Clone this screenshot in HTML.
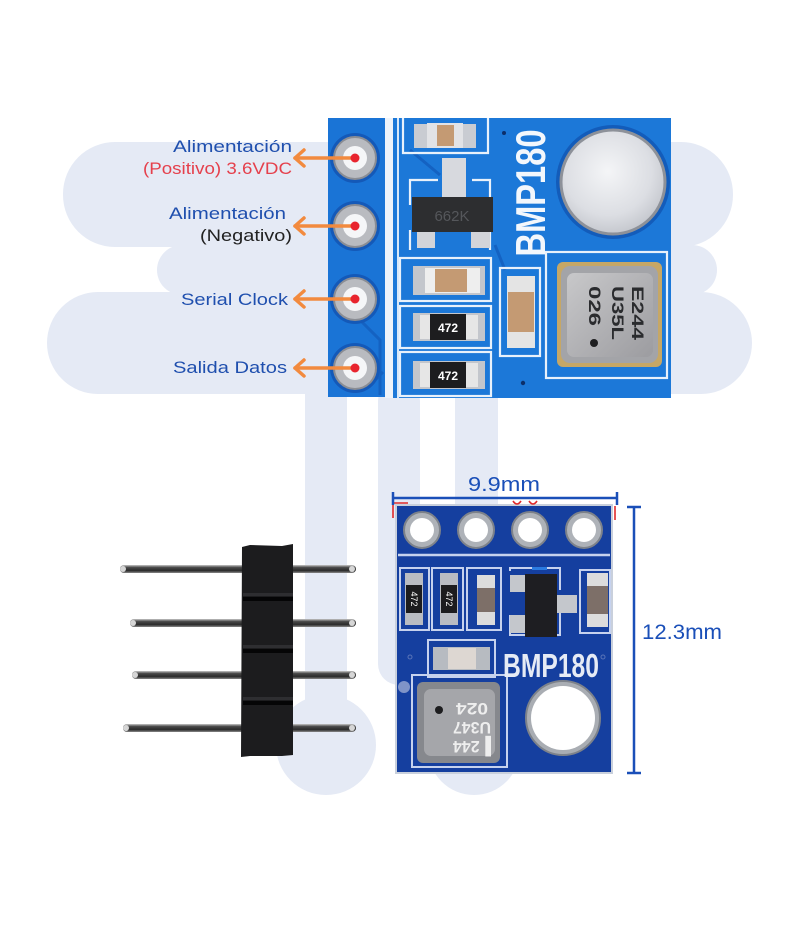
<!DOCTYPE html>
<html><head><meta charset="utf-8"><style>
html,body{margin:0;padding:0;background:#fff;}
svg{display:block;}
</style></head><body>
<svg width="800" height="933" viewBox="0 0 800 933" xmlns="http://www.w3.org/2000/svg" font-family="'Liberation Sans', sans-serif">
<defs>
  <radialGradient id="silver" cx="0.45" cy="0.4" r="0.7">
    <stop offset="0" stop-color="#f4f5f7"/>
    <stop offset="0.6" stop-color="#dcdee3"/>
    <stop offset="1" stop-color="#b9bcc3"/>
  </radialGradient>
  <linearGradient id="pin" x1="0" y1="0" x2="0" y2="1">
    <stop offset="0" stop-color="#c9c9c9"/>
    <stop offset="0.3" stop-color="#4a4a4a"/>
    <stop offset="0.7" stop-color="#2a2a2a"/>
    <stop offset="1" stop-color="#8a8a8a"/>
  </linearGradient>
  <linearGradient id="chipTop" x1="0" y1="0" x2="1" y2="1">
    <stop offset="0" stop-color="#c8c8ca"/>
    <stop offset="1" stop-color="#9c9ca0"/>
  </linearGradient>
</defs>

<!-- watermark -->
<g fill="#e5eaf5">
  <rect x="63" y="142" width="670" height="105" rx="52"/>
  <rect x="157" y="245" width="560" height="50" rx="25"/>
  <rect x="47" y="292" width="705" height="102" rx="51"/>
  <rect x="305" y="380" width="42" height="370"/>
  <circle cx="326" cy="745" r="50"/>
  <rect x="378" y="380" width="42" height="305" rx="21"/>
  <rect x="455" y="380" width="43" height="370"/>
  <circle cx="474" cy="749" r="46"/>
</g>

<!-- ============ UPPER BOARD ============ -->
<rect x="328" y="118" width="57" height="279" fill="#1a74d6"/>
<rect x="385" y="118" width="8" height="280" fill="#eef3fa"/>
<rect x="393" y="118" width="278" height="280" fill="#1c78d8"/>
<line x1="398" y1="118" x2="398" y2="398" stroke="#d9e8f8" stroke-width="2"/>
<!-- traces -->
<g stroke="#1462c2" stroke-width="3" fill="none">
  <path d="M360 320 L380 340 L380 395"/>
  <path d="M370 385 L383 372"/>
  <path d="M410 150 L440 175"/>
  <path d="M495 245 L505 270"/>
</g>
<!-- pin pads -->
<g>
  <circle cx="355" cy="158" r="25" fill="#1459b8"/>
  <circle cx="355" cy="226" r="25" fill="#1459b8"/>
  <circle cx="355" cy="299" r="25" fill="#1459b8"/>
  <circle cx="355" cy="368" r="25" fill="#1459b8"/>
  <g fill="#b9bbc0" stroke="#8a8d94" stroke-width="2">
    <circle cx="355" cy="158" r="21"/>
    <circle cx="355" cy="226" r="21"/>
    <circle cx="355" cy="299" r="21"/>
    <circle cx="355" cy="368" r="21"/>
  </g>
  <g fill="#f5f6f8">
    <circle cx="355" cy="158" r="12"/>
    <circle cx="355" cy="226" r="12"/>
    <circle cx="355" cy="299" r="12"/>
    <circle cx="355" cy="368" r="12"/>
  </g>
</g>

<!-- silkscreen outlines -->
<g stroke="#e8f1fb" stroke-width="2.2" fill="none">
  <path d="M403 118 L403 153 L488 153 L488 118"/>
  <path d="M410 205 L410 180 L438 180 M472 180 L490 180 L490 205 M410 230 L410 250 M490 230 L490 250"/>
  <rect x="400" y="258" width="91" height="43"/>
  <rect x="400" y="306" width="91" height="42"/>
  <rect x="400" y="352" width="91" height="44"/>
  <rect x="500" y="268" width="40" height="88"/>
  <rect x="546" y="252" width="121" height="126"/>
</g>

<!-- top capacitor -->
<rect x="414" y="124" width="62" height="24" fill="#c9ccd2"/>
<rect x="427" y="123" width="36" height="25" fill="#e2e3e6"/>
<rect x="437" y="125" width="17" height="21" fill="#c49a73"/>

<!-- transistor 662K -->
<rect x="442" y="158" width="24" height="42" fill="#d7d9de"/>
<rect x="417" y="228" width="18" height="20" fill="#d2d4d9"/>
<rect x="471" y="228" width="19" height="20" fill="#d2d4d9"/>
<rect x="412" y="197" width="81" height="35" fill="#2d2e30"/>
<text x="452" y="221" font-size="15" fill="#55575b" text-anchor="middle">662K</text>

<!-- cap 2 -->
<rect x="413" y="266" width="72" height="29" fill="#c3c6cc"/>
<rect x="425" y="268" width="55" height="25" fill="#eeeeee"/>
<rect x="435" y="269" width="32" height="23" fill="#c49a73"/>

<!-- resistors 472 -->
<rect x="413" y="313" width="72" height="28" fill="#c3c6cc"/>
<rect x="420" y="315" width="58" height="24" fill="#e6e6e6"/>
<rect x="430" y="314" width="36" height="26" fill="#1d1d1f"/>
<text x="448" y="332" font-size="12" font-weight="bold" fill="#fff" text-anchor="middle">472</text>
<rect x="413" y="361" width="72" height="28" fill="#c3c6cc"/>
<rect x="420" y="363" width="58" height="24" fill="#e6e6e6"/>
<rect x="430" y="362" width="36" height="26" fill="#1d1d1f"/>
<text x="448" y="380" font-size="12" font-weight="bold" fill="#fff" text-anchor="middle">472</text>

<!-- vertical cap -->
<rect x="507" y="276" width="28" height="72" fill="#e4e4e4"/>
<rect x="508" y="292" width="26" height="40" fill="#c49a73"/>

<!-- BMP180 rotated -->
<text transform="translate(545,193) rotate(-90)" x="0" y="0" font-size="42" font-weight="bold" fill="#f3f7fc" text-anchor="middle" textLength="127" lengthAdjust="spacingAndGlyphs">BMP180</text>

<!-- big silver circle -->
<circle cx="613" cy="182" r="57" fill="#135cba"/>
<circle cx="613" cy="182" r="52" fill="url(#silver)" stroke="#8d9199" stroke-width="3"/>

<!-- sensor chip -->
<rect x="557" y="262" width="105" height="105" rx="6" fill="#c6a766"/>
<rect x="561" y="266" width="97" height="97" rx="9" fill="#a3a4a8"/>
<rect x="567" y="273" width="86" height="84" rx="7" fill="url(#chipTop)"/>
<g font-size="17" font-weight="bold" fill="#2a2b2e" text-anchor="middle">
  <text transform="translate(632,313) rotate(90)" textLength="54" lengthAdjust="spacingAndGlyphs">E244</text>
  <text transform="translate(612,313) rotate(90)" textLength="54" lengthAdjust="spacingAndGlyphs">U35L</text>
  <text transform="translate(589,306) rotate(90)" textLength="40" lengthAdjust="spacingAndGlyphs">026</text>
</g>
<circle cx="594" cy="343" r="4" fill="#1d1d1f"/>
<circle cx="523" cy="383" r="2.2" fill="#0c2f6a"/>
<circle cx="504" cy="133" r="2" fill="#0c2f6a"/>

<!-- arrows + red dots -->
<g stroke="#f28a3e" stroke-width="3.5" stroke-linecap="round" stroke-linejoin="round" fill="none">
  <line x1="295" y1="158" x2="352" y2="158"/>
  <polyline points="304,150 295,158 304,166"/>
  <line x1="295" y1="226" x2="352" y2="226"/>
  <polyline points="304,218 295,226 304,234"/>
  <line x1="295" y1="299" x2="352" y2="299"/>
  <polyline points="304,291 295,299 304,307"/>
  <line x1="295" y1="368" x2="352" y2="368"/>
  <polyline points="304,360 295,368 304,376"/>
</g>
<g fill="#e8242e">
  <circle cx="355" cy="158" r="4.5"/>
  <circle cx="355" cy="226" r="4.5"/>
  <circle cx="355" cy="299" r="4.5"/>
  <circle cx="355" cy="368" r="4.5"/>
</g>

<!-- labels -->
<g font-size="17" text-anchor="end" lengthAdjust="spacingAndGlyphs">
  <text x="292" y="152" fill="#1f4fae" textLength="119" lengthAdjust="spacingAndGlyphs">Alimentación</text>
  <text x="292" y="174" fill="#e5404c" textLength="149" lengthAdjust="spacingAndGlyphs">(Positivo) 3.6VDC</text>
  <text x="286" y="219" fill="#1f4fae" textLength="117" lengthAdjust="spacingAndGlyphs">Alimentación</text>
  <text x="292" y="241" fill="#222222" textLength="92" lengthAdjust="spacingAndGlyphs">(Negativo)</text>
  <text x="288" y="305" fill="#1f4fae" textLength="107" lengthAdjust="spacingAndGlyphs">Serial Clock</text>
  <text x="287" y="373" fill="#1f4fae" textLength="114" lengthAdjust="spacingAndGlyphs">Salida Datos</text>
</g>

<!-- ============ HEADER PINS ============ -->
<g>
  <rect x="120" y="565" width="236" height="8" rx="4" fill="url(#pin)"/>
  <rect x="130" y="619" width="226" height="8" rx="4" fill="url(#pin)"/>
  <rect x="132" y="671" width="224" height="8" rx="4" fill="url(#pin)"/>
  <rect x="123" y="724" width="233" height="8" rx="4" fill="url(#pin)"/>
  <g fill="#d6d6d6">
    <rect x="120" y="566" width="6" height="6" rx="3"/>
    <rect x="130" y="620" width="6" height="6" rx="3"/>
    <rect x="132" y="672" width="6" height="6" rx="3"/>
    <rect x="123" y="725" width="6" height="6" rx="3"/>
    <rect x="349" y="566" width="6" height="6" rx="3"/>
    <rect x="349" y="620" width="6" height="6" rx="3"/>
    <rect x="349" y="672" width="6" height="6" rx="3"/>
    <rect x="349" y="725" width="6" height="6" rx="3"/>
  </g>
  <path d="M242 547 L250 545 L282 546 L293 544 L293 755 L282 756 L250 756 L241 757 Z" fill="#1c1c1e"/>
  <g fill="#050506">
    <rect x="243" y="597" width="50" height="4"/>
    <rect x="243" y="649" width="50" height="4"/>
    <rect x="243" y="701" width="50" height="4"/>
  </g>
  <g fill="#2e2e31">
    <rect x="243" y="593" width="50" height="3"/>
    <rect x="243" y="645" width="50" height="3"/>
    <rect x="243" y="697" width="50" height="3"/>
  </g>
</g>

<!-- ============ LOWER BOARD ============ -->
<rect x="396" y="505" width="216" height="268" fill="#153f9f"/>
<rect x="396" y="505" width="216" height="268" fill="none" stroke="#c9d0dc" stroke-width="2"/>

<!-- holes -->
<g fill="#aeb2b8" stroke="#7d828a" stroke-width="2">
  <circle cx="422" cy="530" r="18"/>
  <circle cx="476" cy="530" r="18"/>
  <circle cx="530" cy="530" r="18"/>
  <circle cx="584" cy="530" r="18"/>
</g>
<g fill="#ffffff">
  <circle cx="422" cy="530" r="12"/>
  <circle cx="476" cy="530" r="12"/>
  <circle cx="530" cy="530" r="12"/>
  <circle cx="584" cy="530" r="12"/>
</g>
<line x1="398" y1="555" x2="610" y2="555" stroke="#c6d2ee" stroke-width="2.5"/>

<!-- component outlines -->
<g stroke="#c6d2ee" stroke-width="2" fill="none">
  <rect x="400" y="568" width="29" height="62"/>
  <rect x="432" y="568" width="31" height="62"/>
  <rect x="467" y="568" width="34" height="62"/>
  <path d="M510 571 L510 568 L560 568 L560 590 M510 615 L510 635 L560 635 L560 612"/>
  <rect x="580" y="570" width="30" height="63"/>
  <rect x="428" y="640" width="67" height="37"/>
  <rect x="412" y="675" width="95" height="92"/>
</g>
<!-- resistors -->
<g>
  <rect x="405" y="573" width="18" height="52" fill="#b9bcc2"/>
  <rect x="406" y="585" width="16" height="28" fill="#1c1c1e"/>
  <text transform="translate(411,599) rotate(90)" font-size="9" fill="#fff" text-anchor="middle">472</text>
  <rect x="440" y="573" width="18" height="52" fill="#b9bcc2"/>
  <rect x="441" y="585" width="16" height="28" fill="#1c1c1e"/>
  <text transform="translate(446,599) rotate(90)" font-size="9" fill="#fff" text-anchor="middle">472</text>
  <rect x="477" y="575" width="18" height="50" fill="#dcdcdc"/>
  <rect x="477" y="588" width="18" height="24" fill="#7d6f68"/>
  <rect x="587" y="573" width="21" height="54" fill="#dcdcdc"/>
  <rect x="587" y="586" width="21" height="28" fill="#7d6f68"/>
</g>
<!-- transistor -->
<rect x="510" y="575" width="18" height="17" fill="#c4c7cc"/>
<rect x="510" y="615" width="18" height="18" fill="#c4c7cc"/>
<rect x="555" y="595" width="22" height="18" fill="#c4c7cc"/>
<rect x="525" y="574" width="32" height="63" fill="#1e1e22"/>
<rect x="532" y="567" width="15" height="3" fill="#2a7ae0"/>
<!-- horizontal cap -->
<rect x="433" y="647" width="57" height="23" fill="#b7bbc1"/>
<rect x="448" y="648" width="28" height="21" fill="#ddd7d2"/>
<!-- BMP180 text -->
<text x="503" y="677" font-size="33" font-weight="bold" fill="#e6ebf5" textLength="96" lengthAdjust="spacingAndGlyphs">BMP180</text>
<!-- sensor -->
<rect x="417" y="682" width="83" height="81" rx="6" fill="#86888d"/>
<rect x="424" y="689" width="71" height="67" rx="7" fill="#a5a6aa"/>
<circle cx="439" cy="710" r="4" fill="#1d1d1f"/>
<g transform="translate(472,728) rotate(180)" font-size="17" font-weight="bold" fill="#eeeeee" text-anchor="middle">
  <text x="0" y="-13" textLength="38" lengthAdjust="spacingAndGlyphs">▌244</text>
  <text x="0" y="6" textLength="38" lengthAdjust="spacingAndGlyphs">U347</text>
  <text x="0" y="25" textLength="32" lengthAdjust="spacingAndGlyphs">024</text>
</g>
<!-- big hole -->
<circle cx="563" cy="718" r="37" fill="#a9adb3" stroke="#7d828a" stroke-width="2"/>
<circle cx="563" cy="718" r="32" fill="#ffffff"/>
<circle cx="404" cy="687" r="6" fill="#7f94c8"/>
<circle cx="410" cy="657" r="2" fill="none" stroke="#5a74b8"/>
<circle cx="603" cy="657" r="2" fill="none" stroke="#5a74b8"/>

<!-- red marks -->
<g stroke="#e02a2a" stroke-width="1.6" fill="none">
  <path d="M393 518 L393 503 L408 503"/>
  <path d="M513 501 Q517 507 521 501"/>
  <path d="M529 501 Q533 507 537 501"/>
  <line x1="615" y1="506" x2="615" y2="520"/>
</g>

<!-- dimension lines -->
<g stroke="#1a4fb8" stroke-width="2.5" fill="none">
  <line x1="393" y1="498" x2="617" y2="498"/>
  <line x1="393" y1="492" x2="393" y2="505"/>
  <line x1="617" y1="492" x2="617" y2="505"/>
  <line x1="634" y1="507" x2="634" y2="773"/>
  <line x1="627" y1="507" x2="641" y2="507"/>
  <line x1="627" y1="773" x2="641" y2="773"/>
</g>
<text x="504" y="491" font-size="20" fill="#1a4fb8" text-anchor="middle" textLength="72" lengthAdjust="spacingAndGlyphs">9.9mm</text>
<text x="642" y="639" font-size="21" fill="#1a4fb8" textLength="80" lengthAdjust="spacingAndGlyphs">12.3mm</text>
</svg>
</body></html>
